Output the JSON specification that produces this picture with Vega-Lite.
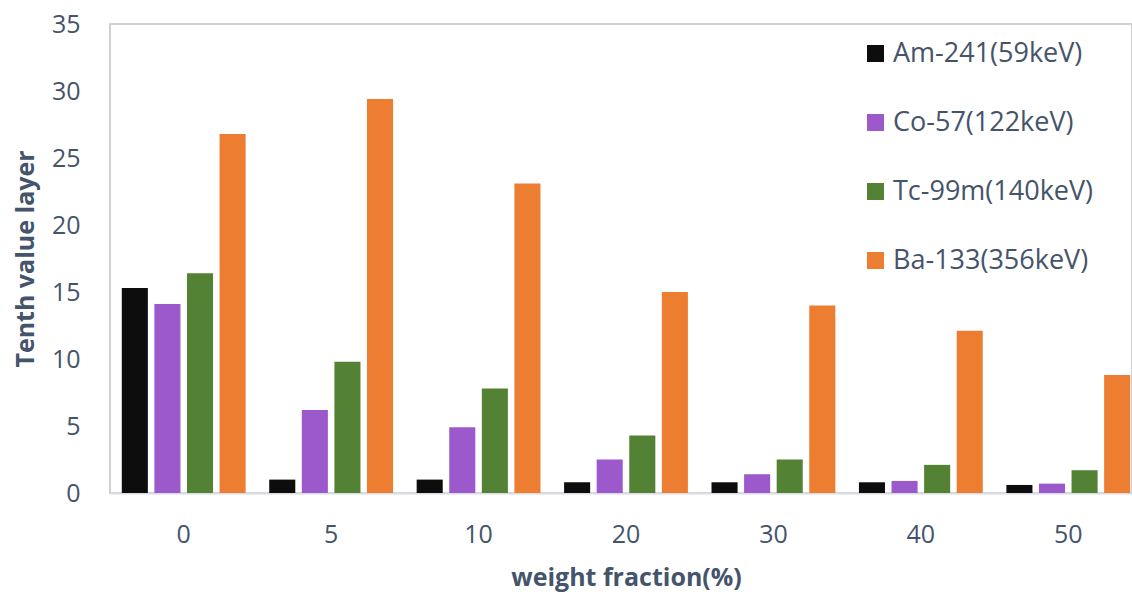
{
  "$schema": "https://vega.github.io/schema/vega-lite/v6.json",
  "width": 1022,
  "height": 469,
  "autosize": {"type": "none"},
  "padding": {"left": 110, "top": 24, "right": 0, "bottom": 101},
  "background": "white",
  "config": {
    "font": "Open Sans",
    "view": {"stroke": "#d0d0d0", "strokeWidth": 2},
    "axis": {"labelColor": "#44546a", "titleColor": "#44546a", "labelFont": "Open Sans", "titleFont": "Open Sans"}
  },
  "data": {
    "values": [
      {"wf": "0", "src": "Am-241(59keV)", "v": 15.3},
      {"wf": "0", "src": "Co-57(122keV)", "v": 14.1},
      {"wf": "0", "src": "Tc-99m(140keV)", "v": 16.4},
      {"wf": "0", "src": "Ba-133(356keV)", "v": 26.8},
      {"wf": "5", "src": "Am-241(59keV)", "v": 1.0},
      {"wf": "5", "src": "Co-57(122keV)", "v": 6.2},
      {"wf": "5", "src": "Tc-99m(140keV)", "v": 9.8},
      {"wf": "5", "src": "Ba-133(356keV)", "v": 29.4},
      {"wf": "10", "src": "Am-241(59keV)", "v": 1.0},
      {"wf": "10", "src": "Co-57(122keV)", "v": 4.9},
      {"wf": "10", "src": "Tc-99m(140keV)", "v": 7.8},
      {"wf": "10", "src": "Ba-133(356keV)", "v": 23.1},
      {"wf": "20", "src": "Am-241(59keV)", "v": 0.8},
      {"wf": "20", "src": "Co-57(122keV)", "v": 2.5},
      {"wf": "20", "src": "Tc-99m(140keV)", "v": 4.3},
      {"wf": "20", "src": "Ba-133(356keV)", "v": 15.0},
      {"wf": "30", "src": "Am-241(59keV)", "v": 0.8},
      {"wf": "30", "src": "Co-57(122keV)", "v": 1.4},
      {"wf": "30", "src": "Tc-99m(140keV)", "v": 2.5},
      {"wf": "30", "src": "Ba-133(356keV)", "v": 14.0},
      {"wf": "40", "src": "Am-241(59keV)", "v": 0.8},
      {"wf": "40", "src": "Co-57(122keV)", "v": 0.9},
      {"wf": "40", "src": "Tc-99m(140keV)", "v": 2.1},
      {"wf": "40", "src": "Ba-133(356keV)", "v": 12.1},
      {"wf": "50", "src": "Am-241(59keV)", "v": 0.6},
      {"wf": "50", "src": "Co-57(122keV)", "v": 0.7},
      {"wf": "50", "src": "Tc-99m(140keV)", "v": 1.7},
      {"wf": "50", "src": "Ba-133(356keV)", "v": 8.8}
    ]
  },
  "mark": {"type": "bar"},
  "encoding": {
    "x": {
      "field": "wf", "type": "nominal",
      "sort": ["0", "5", "10", "20", "30", "40", "50"],
      "scale": {"range": [0, 1032], "paddingInner": 0.16, "paddingOuter": 0.08},
      "axis": {
        "title": "weight fraction(%)", "titleFontSize": 25, "titleFontWeight": "bold", "titlePadding": 18,
        "labelAngle": 0, "labelFontSize": 25, "labelPadding": 29, "ticks": false,
        "domainColor": "#d9dde3", "domainWidth": 2, "grid": false
      }
    },
    "xOffset": {
      "field": "src", "type": "nominal",
      "sort": ["Am-241(59keV)", "Co-57(122keV)", "Tc-99m(140keV)", "Ba-133(356keV)"],
      "scale": {"paddingInner": 0.2, "paddingOuter": 0}
    },
    "y": {
      "field": "v", "type": "quantitative",
      "scale": {"domain": [0, 35], "nice": false},
      "axis": {
        "title": "Tenth value layer", "titleFontSize": 25, "titleFontWeight": "bold", "titlePadding": 13,
        "values": [0, 5, 10, 15, 20, 25, 30, 35], "labelFontSize": 25, "labelPadding": 30,
        "ticks": false, "domain": false, "grid": false
      }
    },
    "color": {
      "field": "src", "type": "nominal",
      "sort": ["Am-241(59keV)", "Co-57(122keV)", "Tc-99m(140keV)", "Ba-133(356keV)"],
      "scale": {
        "domain": ["Am-241(59keV)", "Co-57(122keV)", "Tc-99m(140keV)", "Ba-133(356keV)"],
        "range": ["#0d0d0d", "#9b59cb", "#548235", "#ed7d31"]
      },
      "legend": {
        "title": null, "orient": "none", "legendX": 752, "legendY": 16,
        "symbolType": "square", "symbolSize": 289, "symbolStrokeWidth": 0,
        "labelFontSize": 27, "labelColor": "#44546a", "labelFont": "Open Sans",
        "labelOffset": 4, "rowPadding": 41, "labelLimit": 400
      }
    }
  }
}
